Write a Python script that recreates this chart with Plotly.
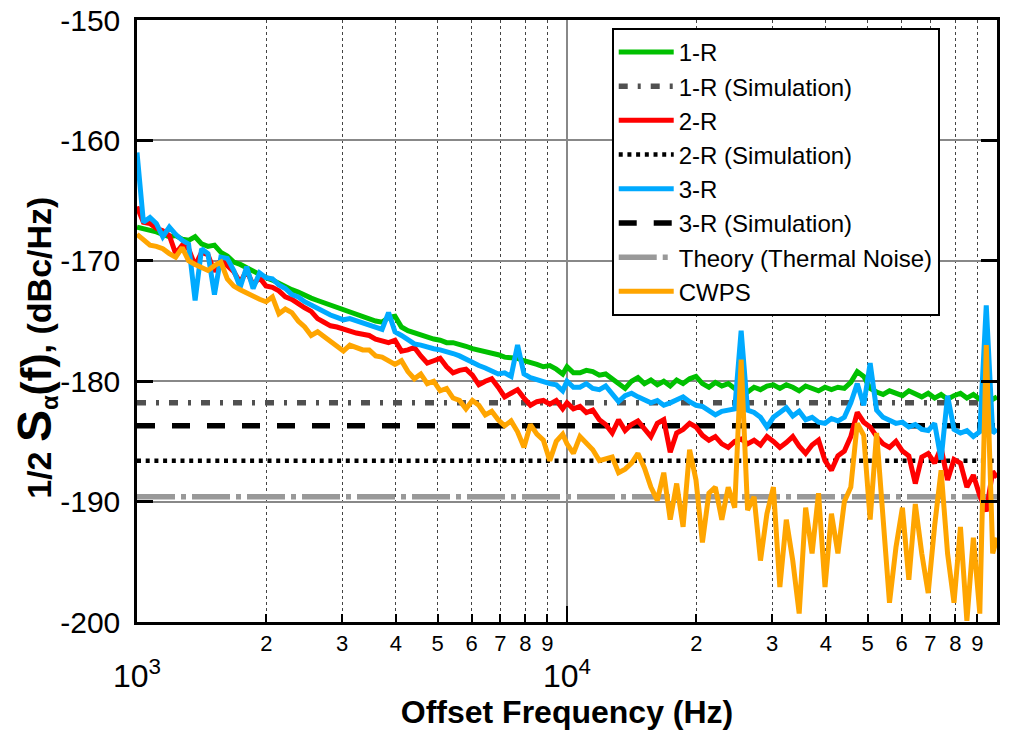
import plotly.graph_objects as go

# frequency grid (mantissas of log-spaced points per decade)
MANT = [1.000, 1.035, 1.072, 1.109, 1.148, 1.189, 1.230, 1.274, 1.318, 1.365,
        1.413, 1.462, 1.514, 1.567, 1.622, 1.679, 1.738, 1.799, 1.862, 1.928,
        1.995, 2.065, 2.138, 2.213, 2.291, 2.371, 2.455, 2.541, 2.630, 2.723,
        2.818, 2.917, 3.020, 3.126, 3.236, 3.350, 3.467, 3.589, 3.715, 3.846,
        3.981, 4.121, 4.266, 4.416, 4.571, 4.732, 4.898, 5.070, 5.248, 5.433,
        5.623, 5.821, 6.026, 6.237, 6.457, 6.683, 6.918, 7.161, 7.413, 7.674,
        7.943, 8.222, 8.511, 8.811, 9.120, 9.441, 9.772]
FREQ = [m * 1e3 for m in MANT] + [m * 1e4 for m in MANT] + [1e5]

R1 = [-167.2, -167.3, -167.5, -167.6, -167.8, -168.0, -167.9, -168.2, -168.3, -168.0,
      -168.6, -168.8, -168.7, -169.3, -169.6, -170.1, -170.3, -170.6, -170.8, -171.1,
      -171.4, -171.6, -171.9, -172.1, -172.4, -172.6, -172.9, -173.1, -173.3, -173.5,
      -173.6, -173.9, -174.1, -174.2, -174.5, -174.7, -174.8, -175.0, -175.1, -174.7,
      -174.6, -175.5, -175.8, -176.0, -176.2, -176.3, -176.5, -176.6, -176.8, -176.8,
      -176.9, -177.1, -177.3, -177.4, -177.5, -177.6, -177.8, -178.0, -178.0, -178.1,
      -178.3, -178.4, -178.6, -178.8, -178.7, -179.0, -179.4,
      -178.8, -179.3, -179.3, -179.1, -179.2, -179.5, -179.4, -179.8, -180.3, -180.6,
      -180.0, -179.7, -180.2, -179.9, -180.3, -180.0, -180.4, -179.9, -180.2, -179.8,
      -179.6, -180.2, -180.5, -180.1, -180.4, -180.2, -180.6, -180.8, -180.9, -180.5,
      -180.7, -180.4, -180.3, -180.6, -180.3, -180.5, -180.8, -180.4, -180.6, -180.8,
      -180.5, -180.7, -180.5, -180.6, -180.1, -179.2, -179.6, -180.6, -180.9, -181.1,
      -180.8, -181.0, -181.2, -180.8, -181.0, -181.3, -181.0, -181.4, -181.1, -181.5,
      -181.2, -181.0, -181.4, -181.1, -181.5, -181.2, -181.5, -181.3]

R2 = [-165.5, -166.8, -166.9, -167.3, -167.5, -167.9, -169.4, -168.7, -169.0, -170.4,
      -169.3, -169.5, -170.9, -169.9, -170.4, -170.9, -171.8, -170.8, -172.0, -171.4,
      -172.1, -172.2, -172.5, -173.0, -173.2, -173.6, -173.9, -174.2, -174.8, -175.1,
      -175.4, -175.5, -175.7, -175.8, -176.0, -176.1, -176.2, -176.5, -176.7, -176.8,
      -176.6, -177.5, -177.4, -177.2, -177.9, -178.5, -178.3, -178.1, -178.8, -179.3,
      -179.1, -179.0, -179.5, -180.3, -180.0, -179.8, -180.5, -181.3, -181.0, -180.7,
      -181.4, -182.0, -181.7, -181.6, -181.9, -181.6, -182.3,
      -181.8, -182.3, -182.1, -182.6, -182.4, -183.2, -183.6, -184.3, -183.2, -184.1,
      -183.6, -183.3, -184.0, -184.6, -183.5, -183.2, -185.9, -184.3, -184.0, -183.5,
      -183.8, -184.5, -184.9, -184.6, -185.2, -185.5, -185.0, -184.8, -185.2, -184.9,
      -185.3, -184.6, -185.0, -185.5, -185.1, -184.6, -185.4, -186.0, -185.3, -184.9,
      -186.6, -187.4, -186.2, -185.8, -184.6, -182.6, -183.4, -183.8, -184.6, -185.2,
      -185.5, -185.0, -185.8, -186.2, -188.5, -186.3, -186.0, -186.8, -185.5, -188.2,
      -186.5, -186.8, -188.8, -187.8, -189.5, -190.8, -187.5, -188.0]

R3 = [-161.0, -166.8, -166.4, -166.9, -168.0, -167.2, -167.8, -168.3, -168.6, -173.3,
      -169.0, -169.4, -172.8, -169.7, -169.8, -170.8, -172.2, -170.5, -172.3, -171.0,
      -171.4, -171.5, -172.0, -172.3, -172.8, -173.0, -173.4, -173.7, -174.0, -174.2,
      -174.5, -174.7, -174.9, -174.8, -175.0, -175.2, -175.3, -175.5, -175.7, -174.3,
      -175.9, -176.2, -176.6, -176.9, -177.0, -177.2, -177.3, -177.4, -177.5, -177.7,
      -177.9, -178.2, -178.4, -178.7, -178.9, -179.1, -179.4, -179.3, -179.6, -177.0,
      -179.4, -179.7, -179.9, -180.0, -180.2, -180.3, -180.8,
      -180.0, -180.5, -180.5, -180.2, -180.6, -180.7, -180.4, -181.1, -181.7, -181.2,
      -181.0, -181.3, -181.5, -181.8, -181.6, -182.0, -181.8, -181.5, -181.3, -181.7,
      -182.0, -182.1, -182.4, -182.8, -182.5, -182.4, -182.3, -175.8, -182.4, -182.6,
      -183.0, -183.8, -183.0, -182.6, -182.2, -182.9, -182.5, -183.2, -183.0, -183.4,
      -183.5, -183.1, -183.3, -183.0, -181.8, -180.2, -182.0, -178.5, -182.4, -183.0,
      -183.2, -183.5, -183.4, -183.8, -183.6, -184.0, -184.1, -183.5, -186.5, -181.2,
      -184.0, -184.3, -184.1, -184.6, -184.2, -173.7, -184.3, -184.0]

CWPS = [-167.8, -168.3, -168.7, -168.8, -169.0, -169.4, -169.7, -168.9, -170.0, -170.3,
        -170.5, -170.8, -170.4, -170.1, -171.5, -172.1, -172.4, -172.7, -172.9, -173.2,
        -173.4, -173.0, -174.4, -174.0, -174.3, -175.0, -175.5, -176.2, -175.9, -176.3,
        -176.8, -177.1, -177.5, -177.0, -177.2, -177.4, -177.4, -177.9, -178.0, -178.3,
        -178.6, -178.3, -179.2, -179.8, -179.4, -180.2, -180.0, -180.8, -180.6, -181.4,
        -181.6, -182.3, -181.6, -182.0, -182.8, -182.5, -183.2, -183.7, -183.3, -184.2,
        -185.5, -183.6, -184.4, -184.9, -186.6, -185.0, -184.4,
        -185.2, -186.0, -184.6, -185.2, -185.7, -186.6, -186.4, -186.3, -187.6, -187.3,
        -186.8, -186.0, -187.2, -188.8, -189.9, -187.6, -191.5, -188.5, -192.1, -185.7,
        -188.2, -193.4, -189.3, -188.8, -191.5, -188.8, -190.5, -178.2, -190.7, -189.6,
        -194.9, -191.0, -188.8, -197.1, -191.5, -194.9, -199.3, -190.5, -194.3, -189.3,
        -197.1, -191.0, -194.3, -190.0, -188.8, -183.5, -184.5, -191.5, -184.3, -192.0,
        -198.4, -193.8, -190.5, -196.5, -190.2, -194.3, -197.6, -192.0, -187.4, -194.3,
        -198.4, -192.1, -199.9, -193.0, -199.3, -177.0, -194.3, -193.0]

SIM_1R = -181.8
SIM_2R = -186.6
SIM_3R = -183.7
THEORY = -189.6

Y_VALS = [-200, -190, -180, -170, -160, -150]
Y_TEXT = ["-200", "-190", "-180", "-170", "-160", "-150"]
MINOR_VALS = [2e3, 3e3, 4e3, 5e3, 6e3, 7e3, 8e3, 9e3, 2e4, 3e4, 4e4, 5e4, 6e4, 7e4, 8e4, 9e4]
MINOR_TEXT = ["2", "3", "4", "5", "6", "7", "8", "9"] * 2
MAJOR_VALS = [1e3, 1e4, 1e5]
MAJOR_TEXT = ["10<sup>3</sup>", "10<sup>4</sup>", "10<sup>5</sup>"]
Y_TITLE = ("<b>1/2 <span style='font-size:48px'>S</span><sub>α</sub>"
           "<span style='font-size:42px'>(f)</span>, (dBc/Hz)</b>")

fig = go.Figure()

span = [FREQ[0], FREQ[-1]]

def hline(name, val, color, width, dash, rank):
    fig.add_trace(go.Scatter(x=span, y=[val, val], mode="lines", name=name,
                             legendgroup=name, legendrank=rank,
                             line=dict(color=color, width=width, dash=dash)))

hline("Theory (Thermal Noise)", THEORY, "#999999", 5.5, "38px,6px,5px,6px", 7)
hline("2-R (Simulation)", SIM_2R, "black", 4.5, "4px,4.7px", 4)
hline("3-R (Simulation)", SIM_3R, "black", 5.5, "18px,17px", 6)
hline("1-R (Simulation)", SIM_1R, "#505050", 5.5, "9px,10px,3px,10px", 2)

def data(name, vals, color, rank):
    fig.add_trace(go.Scatter(x=FREQ, y=vals, mode="lines", name=name,
                             legendgroup=name, legendrank=rank,
                             line=dict(color=color, width=5)))

data("1-R", R1, "#00c000", 1)
data("2-R", R2, "#ff0000", 3)
data("3-R", R3, "#00aaff", 5)
data("CWPS", CWPS, "#ffa500", 8)

# carrier for the decade axis
fig.add_trace(go.Scatter(x=span, y=[-175, -175], xaxis="x2", mode="lines",
                         line=dict(width=0, color="rgba(0,0,0,0)"),
                         showlegend=False, hoverinfo="skip"))

fig.update_layout(
    width=1018, height=736,
    margin=dict(l=137, r=21, t=20, b=114, autoexpand=False),
    plot_bgcolor="white", paper_bgcolor="white",
    font=dict(family="Arial, Liberation Sans, sans-serif", color="black"),
    legend=dict(x=0.552, y=0.987, xanchor="left", yanchor="top",
                bordercolor="black", borderwidth=2, bgcolor="white",
                font=dict(size=24), tracegroupgap=0, itemwidth=55),
    xaxis=dict(type="log", range=[3, 5], tickvals=MINOR_VALS, ticktext=MINOR_TEXT,
               ticks="inside", ticklen=8, tickwidth=1.5, tickcolor="black",
               showgrid=True, gridcolor="#444444", griddash="dot", gridwidth=1,
               showline=True, linecolor="black", linewidth=2.5, mirror=True,
               tickfont=dict(size=22), zeroline=False, automargin=False),
    xaxis2=dict(type="log", range=[3, 5], overlaying="x", anchor="y", side="bottom",
                tickvals=MAJOR_VALS, ticktext=MAJOR_TEXT,
                ticks="inside", ticklen=16, tickwidth=2, tickcolor="black",
                showgrid=True, gridcolor="#888888", gridwidth=1.5,
                showline=False, tickfont=dict(size=32), ticklabelstandoff=32,
                automargin=False,
                title=dict(text="<b>Offset Frequency (Hz)</b>", font=dict(size=32), standoff=6)),
    yaxis=dict(range=[-200, -150], tickvals=Y_VALS, ticktext=Y_TEXT,
               ticks="inside", ticklen=16, tickwidth=2.5, tickcolor="black",
               showgrid=True, gridcolor="#888888", gridwidth=1.5,
               showline=True, linecolor="black", linewidth=2.5, mirror="ticks",
               tickfont=dict(size=30), ticklabelstandoff=8, zeroline=False,
               automargin=False),
    annotations=[dict(text=Y_TITLE, xref="paper", yref="paper", x=-0.119, y=0.455,
                      xanchor="center", yanchor="middle", textangle=-90,
                      showarrow=False, font=dict(size=34, color="black"))],
)

fig.write_html("out.html", post_script="document.body.style.margin='0';",
               config={"displayModeBar": False})
